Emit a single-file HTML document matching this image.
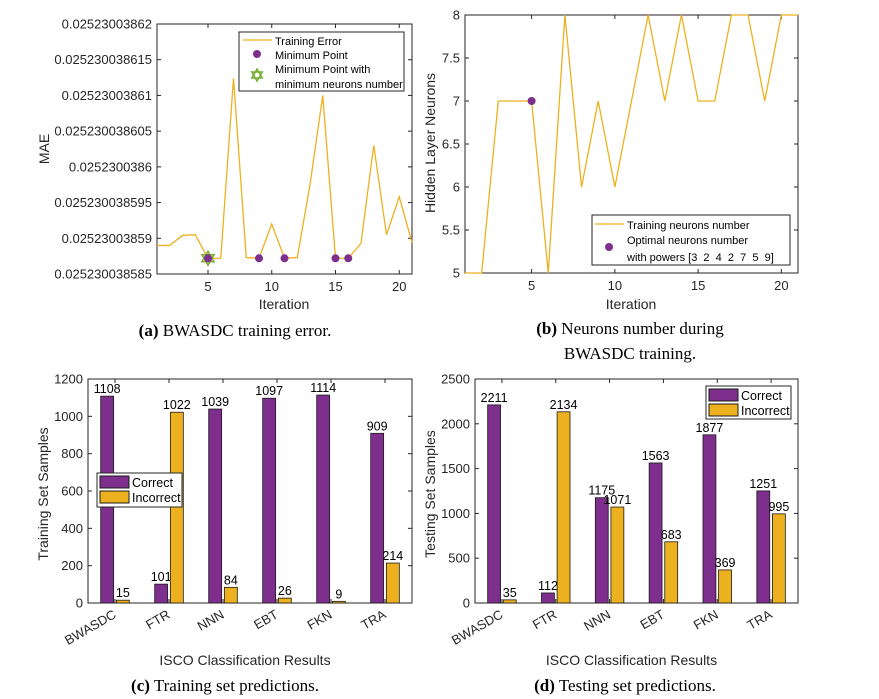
<!DOCTYPE html>
<html><head><meta charset="utf-8"><style>
body{margin:0;background:#fff;}
svg{display:block;font-family:"Liberation Sans",sans-serif;}
.cap{font-family:"Liberation Serif",serif;font-size:17px;}
.pre{white-space:pre;}
</style></head><body>
<svg id="fig" width="879" height="699" viewBox="0 0 879 699" xmlns="http://www.w3.org/2000/svg"></svg>
<script>
// ---- data ----
const iterA = [1,2,3,4,5,6,7,8,9,10,11,12,13,14,15,16,17,18,19,20,21];
const maeA = [85.89,85.89,85.904,85.905,85.872,85.872,86.124,85.873,85.872,85.92,85.872,85.873,85.975,86.10,85.872,85.872,85.893,86.03,85.905,85.958,85.894];
const minIters = [5,9,11,15,16];
const starIter = [5];
const yTicksA = [85.85,85.9,85.95,86,86.05,86.1,86.15,86.2];
const yTickTextA = ["0.025230038585","0.02523003859","0.025230038595","0.0252300386","0.025230038605","0.02523003861","0.025230038615","0.02523003862"];
const xTicksA = [5,10,15,20];
const neuronsB = [5,5,7,7,7,5,8,6,7,6,7,8,7,8,7,7,8,8,7,8,8];
const optIterB = [5];
const optValB = [7];
const yTicksB = [5,5.5,6,6.5,7,7.5,8];
const cats = ["BWASDC","FTR","NNN","EBT","FKN","TRA"];
const trainCorrect = [1108,101,1039,1097,1114,909];
const trainIncorrect = [15,1022,84,26,9,214];
const yTicksC = [0,200,400,600,800,1000,1200];
const testCorrect = [2211,112,1175,1563,1877,1251];
const testIncorrect = [35,2134,1071,683,369,995];
const yTicksD = [0,500,1000,1500,2000,2500];

const ORANGE="#EDB120", PURPLE="#7E2F8E", GREEN="#77AC30";
const svg=document.getElementById('fig');
const NS="http://www.w3.org/2000/svg";
function el(tag,attrs,parent,text){const e=document.createElementNS(NS,tag);for(const k in attrs)e.setAttribute(k,attrs[k]);if(text!==undefined)e.textContent=text;(parent||svg).appendChild(e);return e;}
function lin(d0,d1,r0,r1){return v=>r0+(v-d0)/(d1-d0)*(r1-r0);}

function axesBox(g,L,R,T,B,xt,xs,yt,ys,xlabels,ylabels,rot){
  const f=el('rect',{x:L,y:T,width:R-L,height:B-T,fill:'none',stroke:'#262626','stroke-width':1},g);
  
  
  xt.forEach((v,i)=>{const x=xs(v);
    el('line',{x1:x,y1:B,x2:x,y2:B-4,stroke:'#262626'},g);
    el('line',{x1:x,y1:T,x2:x,y2:T+4,stroke:'#262626'},g);
    let t;
    if(rot){t=el('text',{x:x+2,y:B+14,'font-size':13,fill:'#262626','text-anchor':'end',transform:`rotate(-30 ${x+2} ${B+14})`},g,xlabels[i]);}
    else t=el('text',{x:x,y:B+17,'font-size':13,fill:'#262626','text-anchor':'middle'},g,xlabels[i]);
    
    
  });
  yt.forEach((v,i)=>{const y=ys(v);
    el('line',{x1:L,y1:y,x2:L+4,y2:y,stroke:'#262626'},g);
    el('line',{x1:R,y1:y,x2:R-4,y2:y,stroke:'#262626'},g);
    const t=el('text',{x:L-5,y:y+4.5,'font-size':13,fill:'#262626','text-anchor':'end'},g,ylabels[i]);
    
    
  });
}
function label(g,x,y,txt,rot,name){const t=el('text',{x:x,y:y,'font-size':14,fill:'#262626','text-anchor':'middle',transform:rot?`rotate(-90 ${x} ${y})`:''},g,txt);
  
  }
function caption(x,y,b,rest,name){const t=el('text',{x:x,y:y,'text-anchor':'middle',class:'cap',fill:'#000'},svg);
  
  
  el('tspan',{'font-weight':'bold'},t,b);el('tspan',{},t,rest);}
function star(g,cx,cy,r){let p1='',p2='';for(let i=0;i<3;i++){const a=-Math.PI/2+i*2*Math.PI/3;p1+=(cx+r*Math.cos(a))+','+(cy+r*Math.sin(a))+' ';const b=Math.PI/2+i*2*Math.PI/3;p2+=(cx+r*Math.cos(b))+','+(cy+r*Math.sin(b))+' ';}
  el('polygon',{points:p1,fill:'none',stroke:GREEN,'stroke-width':1.5},g);el('polygon',{points:p2,fill:'none',stroke:GREEN,'stroke-width':1.5},g);}

// ---- (a) ----
{const g=el('g',{});
 const L=157,R=412,T=24,B=274;const xs=lin(1,21,L,R),ys=lin(85.85,86.2,B,T);
 axesBox(g,L,R,T,B,xTicksA,xs,yTicksA,ys,xTicksA.map(String),yTickTextA,false);
 const ln=el('polyline',{points:iterA.map((v,i)=>xs(v)+','+ys(maeA[i])).join(' '),fill:'none',stroke:ORANGE,'stroke-width':1.3},g);
 
 starIter.forEach(v=>star(g,xs(v),ys(maeA[v-1]),7));
 minIters.forEach(v=>{const c=el('circle',{cx:xs(v),cy:ys(maeA[v-1]),r:4,fill:PURPLE},g);});
 label(g,284,309,'Iteration',false,'x-axis-title');label(g,49,149,'MAE',true,'y-axis-title');
 const lg=el('g',{},g);
 el('rect',{x:239,y:32,width:165,height:59,fill:'#fff',stroke:'#262626'},lg);
 el('line',{x1:243,y1:40,x2:272,y2:40,stroke:ORANGE,'stroke-width':1.3},lg);
 el('circle',{cx:257,cy:54,r:4,fill:PURPLE},lg);star(lg,257,75,6);
 [['Training Error',45],['Minimum Point',59],['Minimum Point with',73],['minimum neurons number',88]].forEach(a=>el('text',{x:275,y:a[1],'font-size':11,fill:'#000'},lg,a[0]));
 caption(235,336,'(a)',' BWASDC training error.','caption-a');}

// ---- (b) ----
{const g=el('g',{});
 const L=465,R=798,T=15,B=273;const xs=lin(1,21,L,R),ys=lin(5,8,B,T);
 axesBox(g,L,R,T,B,xTicksA,xs,yTicksB,ys,xTicksA.map(String),yTicksB.map(String),false);
 const ln=el('polyline',{points:iterA.map((v,i)=>xs(v)+','+ys(neuronsB[i])).join(' '),fill:'none',stroke:ORANGE,'stroke-width':1.3},g);
 
 optIterB.forEach((v,i)=>{const c=el('circle',{cx:xs(v),cy:ys(optValB[i]),r:4,fill:PURPLE},g);});
 label(g,631,309,'Iteration',false,'x-axis-title');label(g,435,143,'Hidden Layer Neurons',true,'y-axis-title');
 const lg=el('g',{},g);
 el('rect',{x:592,y:215,width:198,height:50,fill:'#fff',stroke:'#262626'},lg);
 el('line',{x1:595,y1:224,x2:624,y2:224,stroke:ORANGE,'stroke-width':1.3},lg);
 el('circle',{cx:609,cy:247,r:4,fill:PURPLE},lg);
 [['Training neurons number',229],['Optimal neurons number',244],['with powers [3  2  4  2  7  5  9]',261]].forEach(a=>el('text',{x:627,y:a[1],'font-size':11,fill:'#000',class:'pre'},lg,a[0]));
 caption(630,334,'(b)',' Neurons number during','caption-b-1');
 const c2=el('text',{x:630,y:359,'text-anchor':'middle',class:'cap'},svg,'BWASDC training.');}

// ---- bar charts ----
function bars(name,L,R,T,B,ymax,yt,cor,inc,ylab,legend,capx,capB,capR,capName){
 const g=el('g',{});
 const xs=lin(0.5,6.5,L,R),ys=lin(0,ymax,B,T);const w=(R-L)/6;
 axesBox(g,L,R,T,B,[1,2,3,4,5,6],xs,yt,ys,cats,yt.map(String),true);
 cats.forEach((c,i)=>{
  [[cor[i],PURPLE,-1,'bar-correct-'],[inc[i],ORANGE,1,'bar-incorrect-']].forEach(s=>{
   const bw=w*0.24,cx=xs(i+1)+s[2]*w*0.145;
   const r=el('rect',{x:cx-bw/2,y:ys(s[0]),width:bw,height:B-ys(s[0]),fill:s[1],stroke:'#1a1a1a','stroke-width':0.8},g);
   
   const t=el('text',{x:cx,y:ys(s[0])-3,'font-size':12.5,fill:'#000','text-anchor':'middle'},g,String(s[0]));
   
  });});
 label(g,(L+R)/2-5,665,'ISCO Classification Results',false,'x-axis-title');
 label(g,ylab[1],(T+B)/2+3,ylab[0],true,'y-axis-title');
 const lg=el('g',{},g);
 const [lx,ly,lw,lh]=legend;
 el('rect',{x:lx,y:ly,width:lw,height:lh,fill:'#fff',stroke:'#262626'},lg);
 el('rect',{x:lx+3,y:ly+3,width:29,height:12,fill:PURPLE,stroke:'#1a1a1a'},lg);
 el('rect',{x:lx+3,y:ly+18,width:29,height:12,fill:ORANGE,stroke:'#1a1a1a'},lg);
 el('text',{x:lx+35,y:ly+14,'font-size':12.5,fill:'#000'},lg,'Correct');
 el('text',{x:lx+35,y:ly+29,'font-size':12.5,fill:'#000'},lg,'Incorrect');
 caption(capx,691,capB,capR,capName);
}
bars('chart-c-training-set',88,412,379,603,1200,yTicksC,trainCorrect,trainIncorrect,['Training Set Samples',48],[97,473,85,34],225,'(c)',' Training set predictions.','caption-c');
bars('chart-d-testing-set',475,798,379,603,2500,yTicksD,testCorrect,testIncorrect,['Testing Set Samples',435],[706,386,85,33],625,'(d)',' Testing set predictions.','caption-d');
</script>
</body></html>
